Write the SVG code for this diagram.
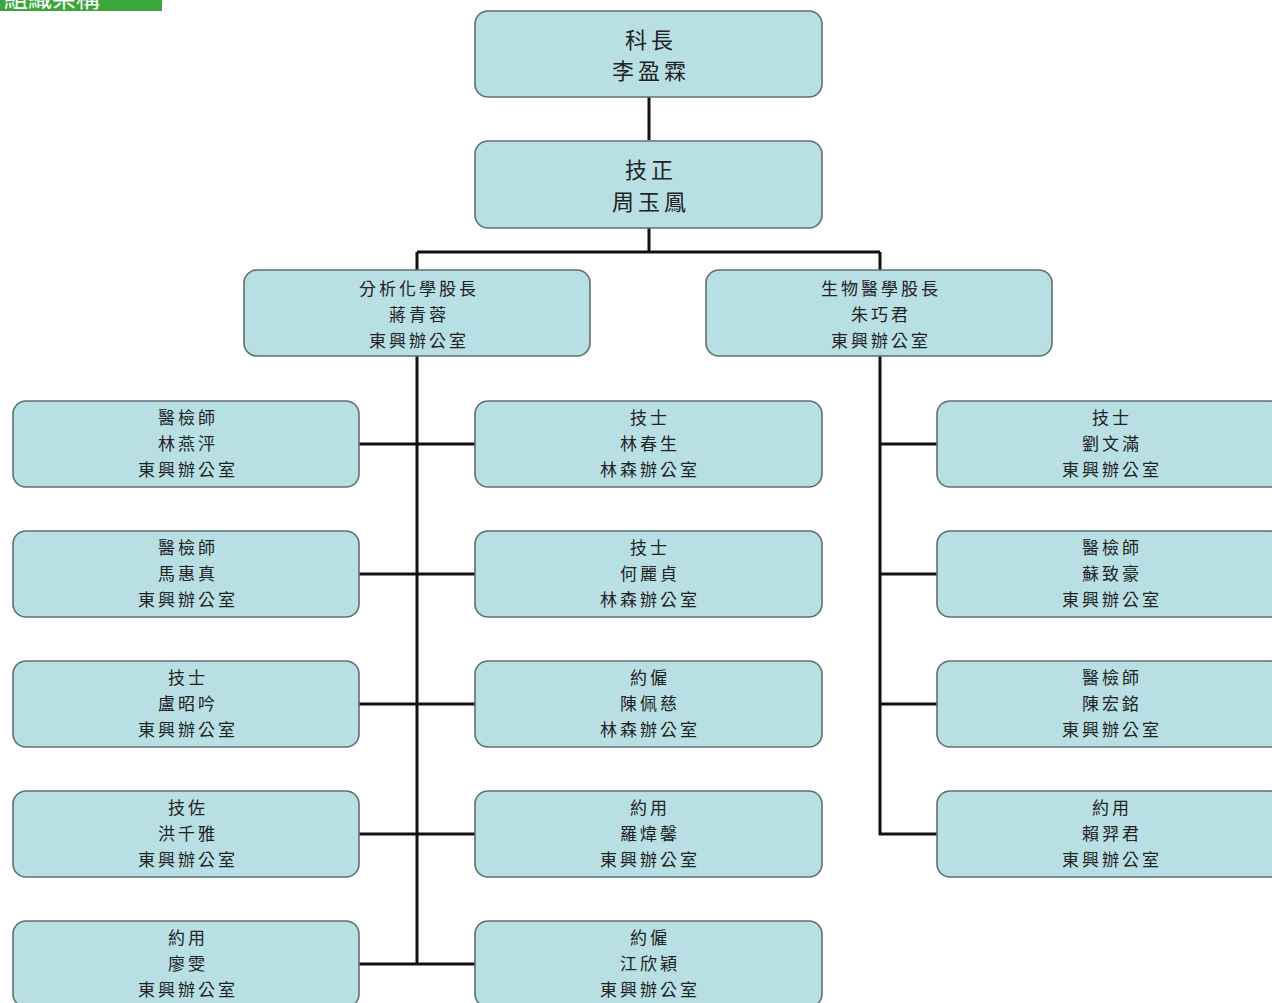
<svg xmlns="http://www.w3.org/2000/svg" width="1272" height="1003" viewBox="0 0 1272 1003">
<style>
.box{fill:#b8dfe3;stroke:#5f6f72;stroke-width:1.6}
.t{font-family:"Noto Sans CJK TC","Noto Sans CJK SC",sans-serif;font-size:17px;fill:#222;text-anchor:middle;letter-spacing:3px}
.tb{font-family:"Noto Sans CJK TC","Noto Sans CJK SC",sans-serif;font-size:22px;fill:#222;text-anchor:middle;letter-spacing:4px}
.c{stroke:#111;stroke-width:3;fill:none}
</style>
<rect width="1272" height="1003" fill="#ffffff"/>
<g id="header">
<rect x="0" y="0" width="162" height="11" fill="#3da63a"/>
<text x="4" y="7" font-family="Noto Sans CJK TC,sans-serif" font-size="24" fill="#ffffff">組織架構</text>
</g>
<g id="connectors">
<path class="c" d="M649 97V140M649 228V252M417 252H880M417 252V270M880 252V270"/>
<path class="c" d="M417 356V964M359 444H475M359 574H475M359 704H475M359 834H475M359 964H475"/>
<path class="c" d="M880 356V834H937M880 444H937M880 574H937M880 704H937"/>
</g>
<g id="n-chief"><rect class="box" x="475" y="11" width="347" height="86" rx="13"/><text class="tb" x="651" y="48">科長</text><text class="tb" x="651" y="79">李盈霖</text></g>
<g id="n-deputy"><rect class="box" x="475" y="141" width="347" height="87" rx="13"/><text class="tb" x="651" y="178">技正</text><text class="tb" x="651" y="210">周玉鳳</text></g>
<g id="n-chem"><rect class="box" x="244" y="270" width="346" height="86" rx="13"/><text class="t" x="419" y="295">分析化學股長</text><text class="t" x="419" y="321">蔣青蓉</text><text class="t" x="419" y="347">東興辦公室</text></g>
<g id="n-bio"><rect class="box" x="706" y="270" width="346" height="86" rx="13"/><text class="t" x="881" y="295">生物醫學股長</text><text class="t" x="881" y="321">朱巧君</text><text class="t" x="881" y="347">東興辦公室</text></g>

<g id="n-l1"><rect class="box" x="13" y="401" width="346" height="86" rx="13"/><text class="t" x="188" y="424">醫檢師</text><text class="t" x="188" y="450">林燕泙</text><text class="t" x="188" y="476">東興辦公室</text></g>
<g id="n-l2"><rect class="box" x="13" y="531" width="346" height="86" rx="13"/><text class="t" x="188" y="554">醫檢師</text><text class="t" x="188" y="580">馬惠真</text><text class="t" x="188" y="606">東興辦公室</text></g>
<g id="n-l3"><rect class="box" x="13" y="661" width="346" height="86" rx="13"/><text class="t" x="188" y="684">技士</text><text class="t" x="188" y="710">盧昭吟</text><text class="t" x="188" y="736">東興辦公室</text></g>
<g id="n-l4"><rect class="box" x="13" y="791" width="346" height="86" rx="13"/><text class="t" x="188" y="814">技佐</text><text class="t" x="188" y="840">洪千雅</text><text class="t" x="188" y="866">東興辦公室</text></g>
<g id="n-l5"><rect class="box" x="13" y="921" width="346" height="86" rx="13"/><text class="t" x="188" y="944">約用</text><text class="t" x="188" y="970">廖雯</text><text class="t" x="188" y="996">東興辦公室</text></g>

<g id="n-m1"><rect class="box" x="475" y="401" width="347" height="86" rx="13"/><text class="t" x="650" y="424">技士</text><text class="t" x="650" y="450">林春生</text><text class="t" x="650" y="476">林森辦公室</text></g>
<g id="n-m2"><rect class="box" x="475" y="531" width="347" height="86" rx="13"/><text class="t" x="650" y="554">技士</text><text class="t" x="650" y="580">何麗貞</text><text class="t" x="650" y="606">林森辦公室</text></g>
<g id="n-m3"><rect class="box" x="475" y="661" width="347" height="86" rx="13"/><text class="t" x="650" y="684">約僱</text><text class="t" x="650" y="710">陳佩慈</text><text class="t" x="650" y="736">林森辦公室</text></g>
<g id="n-m4"><rect class="box" x="475" y="791" width="347" height="86" rx="13"/><text class="t" x="650" y="814">約用</text><text class="t" x="650" y="840">羅煒馨</text><text class="t" x="650" y="866">東興辦公室</text></g>
<g id="n-m5"><rect class="box" x="475" y="921" width="347" height="86" rx="13"/><text class="t" x="650" y="944">約僱</text><text class="t" x="650" y="970">江欣穎</text><text class="t" x="650" y="996">東興辦公室</text></g>

<g id="n-r1"><rect class="box" x="937" y="401" width="346" height="86" rx="13"/><text class="t" x="1112" y="424">技士</text><text class="t" x="1112" y="450">劉文滿</text><text class="t" x="1112" y="476">東興辦公室</text></g>
<g id="n-r2"><rect class="box" x="937" y="531" width="346" height="86" rx="13"/><text class="t" x="1112" y="554">醫檢師</text><text class="t" x="1112" y="580">蘇致豪</text><text class="t" x="1112" y="606">東興辦公室</text></g>
<g id="n-r3"><rect class="box" x="937" y="661" width="346" height="86" rx="13"/><text class="t" x="1112" y="684">醫檢師</text><text class="t" x="1112" y="710">陳宏銘</text><text class="t" x="1112" y="736">東興辦公室</text></g>
<g id="n-r4"><rect class="box" x="937" y="791" width="346" height="86" rx="13"/><text class="t" x="1112" y="814">約用</text><text class="t" x="1112" y="840">賴羿君</text><text class="t" x="1112" y="866">東興辦公室</text></g>
</svg>
